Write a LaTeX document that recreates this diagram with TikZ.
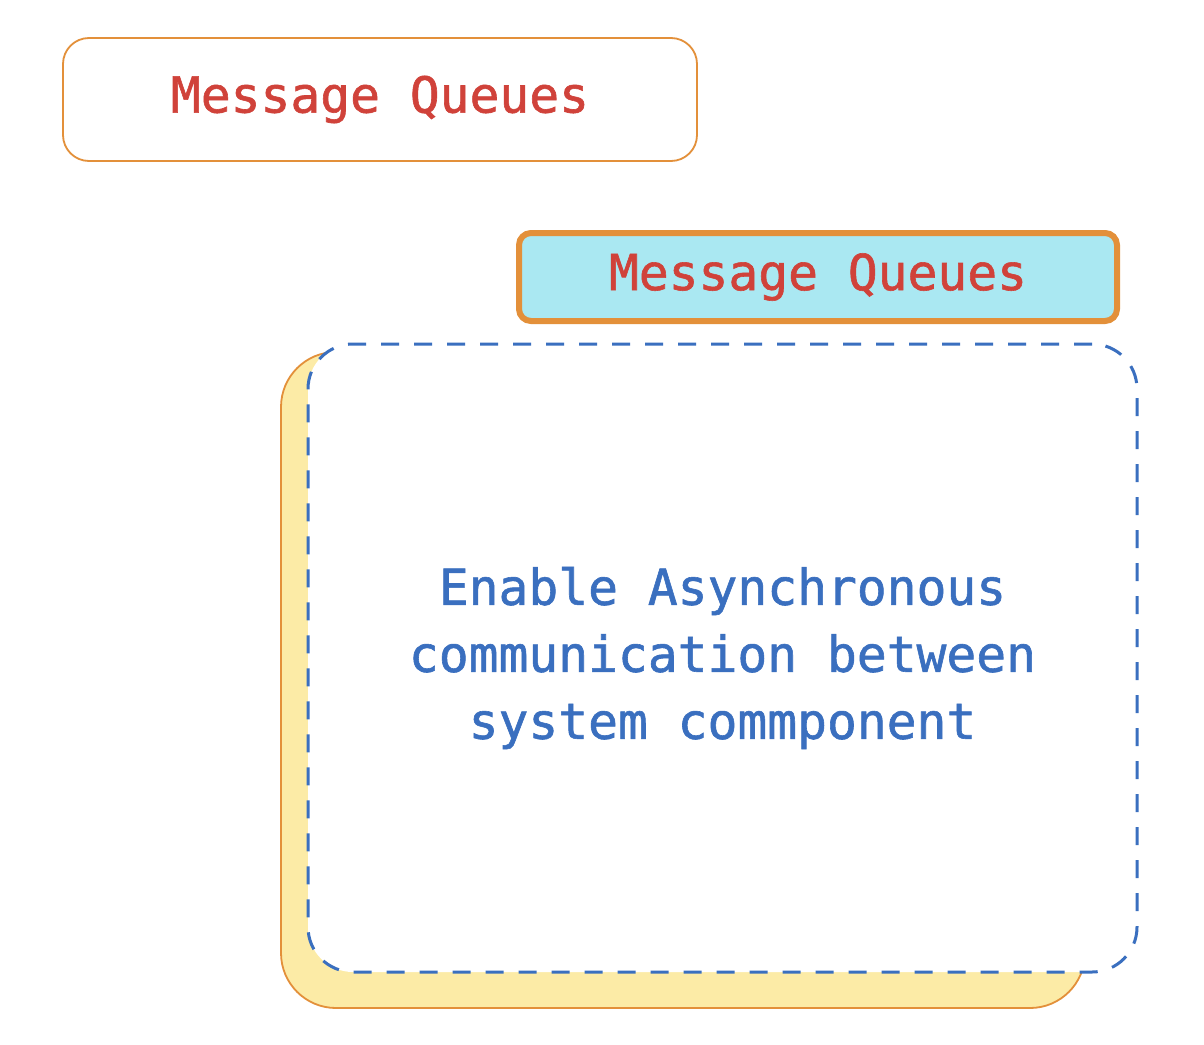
\documentclass[tikz,border=0pt]{standalone}
\usepackage{fontspec}
\newfontfamily\handfont[FakeBold=1.2]{DejaVu Sans Mono}
\definecolor{qred}{HTML}{D0423A}
\definecolor{qblue}{HTML}{3A6FBF}
\definecolor{qorange}{HTML}{E3903A}
\definecolor{qcyan}{HTML}{AAE8F2}
\definecolor{qyellow}{HTML}{FCEBA6}
\tikzset{
  titlebox/.style={rectangle, draw=qorange, fill=white, line width=1.8pt, rounded corners=26pt,
    minimum width=634pt, minimum height=123pt, inner sep=0pt,
    text=qred, font=\handfont\fontsize{49.6}{60}\selectfont},
  headbox/.style={rectangle, draw=qorange, fill=qcyan, line width=6pt, rounded corners=12pt,
    minimum width=598pt, minimum height=88pt, inner sep=0pt,
    text=qred, font=\handfont\fontsize{49.6}{60}\selectfont},
  shadowbox/.style={rectangle, draw=qorange, fill=qyellow, line width=1.8pt, rounded corners=55pt,
    minimum width=804pt, minimum height=656pt, inner sep=0pt},
  bodybox/.style={rectangle, draw=qblue, fill=white, line width=3pt, rounded corners=45pt,
    dash pattern=on 18pt off 15pt, minimum width=829pt, minimum height=628pt, inner sep=0pt,
    text=qblue, align=center, font=\handfont\fontsize{49.6}{67}\selectfont},
}
\begin{document}
\begin{tikzpicture}[x=1pt,y=-1pt]
\useasboundingbox[fill=white] (0,0) rectangle (1204,1044);
\node[titlebox] (t1) at (380,99.5) {Message Queues};
\node[headbox] (t2) at (818,277) {Message Queues};
\node[shadowbox] (sh) at (683,680) {};
\node[bodybox] (body) at (722.5,658) {Enable Asynchronous\\communication between\\system commponent};
\end{tikzpicture}
\end{document}
